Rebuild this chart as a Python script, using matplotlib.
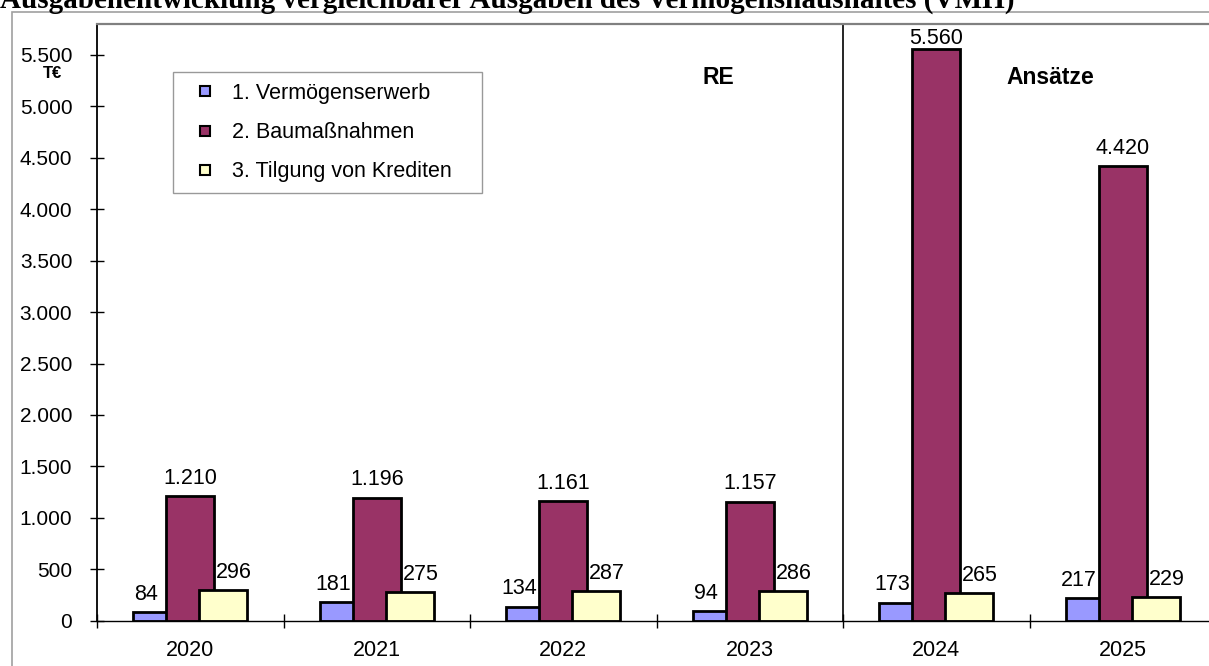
import numpy as np
import matplotlib.pyplot as plt
from matplotlib.lines import Line2D
from matplotlib.patches import Rectangle

# Werte in T€
years = ['2020', '2021', '2022', '2023', '2024', '2025']
verm_erwerb = [84, 181, 134, 94, 173, 217]
baumassnahmen = [1210, 1196, 1161, 1157, 5560, 4420]
tilgung = [296, 275, 287, 286, 265, 229]
series_names = ['1. Vermögenserwerb', '2. Baumaßnahmen', '3. Tilgung von Krediten']
y_ticks = list(range(0, 5501, 500))

colors = ['#9999FF', '#993366', '#FFFFCC']

W, H = 1209, 666
fig = plt.figure(figsize=(W / 100, H / 100), dpi=100)
plt.rcParams['font.family'] = ['Liberation Sans', 'DejaVu Sans']
fs = 15.5

# outer chart border
fig.patches.append(Rectangle((12 / W, -0.1), 1.2, (H - 12) / H + 0.1, transform=fig.transFigure,
                             fill=False, edgecolor='#a0a0a0', linewidth=1.2))

# title (cut off at the top in the original)
fig.text(0.0, 1 - 8 / H, 'Ausgabenentwicklung vergleichbarer Ausgaben des Vermögenshaushaltes (VMH)',
         family='Liberation Serif', fontweight='bold', fontsize=21, va='baseline', ha='left')

left, top, bottom = 97, 24, 620.7
cat_w = 186.5
ax = fig.add_axes([left / W, 1 - bottom / H, 6 * cat_w / W, (bottom - top) / H])

x = np.arange(len(years))
bw = 48 / cat_w
off = 33 / cat_w
for i, (vals, c) in enumerate(zip([verm_erwerb, baumassnahmen, tilgung], colors)):
    ax.bar(x + (i - 1) * off, vals, width=bw, color=c, edgecolor='black', linewidth=2.0)

ax.set_xlim(-0.5, 5.5)
ax.set_ylim(0, 5800)

# value labels
y_max_label = 5605
for i, vals in enumerate([verm_erwerb, baumassnahmen, tilgung]):
    dx = [-11, 0, 11][i]
    for xi, v in zip(x, vals):
        yv = min(v + 121, y_max_label)
        txt = f'{v:,}'.replace(',', '.')
        ax.annotate(txt, (xi + (i - 1) * off, yv), xytext=(dx * 0.72, 0), textcoords='offset points',
                    ha='center', va='baseline', fontsize=fs)

# separator between RE and Ansätze
ax.axvline(3.5, color='black', linewidth=1.2)
ax.text(2.83, 5216, 'RE', ha='center', va='baseline', fontsize=16.5, fontweight='bold')
ax.text(4.61, 5216, 'Ansätze', ha='center', va='baseline', fontsize=16.5, fontweight='bold')

# axes styling
ax.set_yticks(y_ticks)
ax.set_yticklabels([f'{v:,}'.replace(',', '.') for v in y_ticks], fontsize=15)
ax.tick_params(axis='y', direction='inout', length=10.5, width=1, pad=12.5)
ax.set_xticks(np.arange(-0.5, 6.0, 1.0))
ax.set_xticklabels([])
ax.set_xticks(x, minor=True)
ax.set_xticklabels(years, minor=True, fontsize=fs)
ax.tick_params(axis='x', which='major', direction='inout', length=10, width=1)
ax.tick_params(axis='x', which='minor', length=0, pad=14)

ax.spines['right'].set_visible(False)
ax.spines['top'].set_color('#808080')
ax.spines['top'].set_linewidth(1.6)
ax.spines['left'].set_linewidth(1.3)
ax.spines['bottom'].set_linewidth(1.0)

fig.text(52 / W, 1 - 73.5 / H, 'T€', ha='center', va='center', fontsize=12, fontweight='bold')

handles = [Line2D([], [], linestyle='none', marker='s', markersize=6.5, markerfacecolor=c,
                  markeredgecolor='black', markeredgewidth=1.5) for c in colors]
leg = ax.legend(handles, series_names, loc='upper left',
                bbox_to_anchor=(172.7 / W, 1 - 188 / H, 309 / W, 116 / H), mode='expand',
                bbox_transform=fig.transFigure, fontsize=fs, frameon=True, fancybox=False,
                labelspacing=0.85, handlelength=2.0, handletextpad=0.26, borderpad=0.5,
                borderaxespad=0, edgecolor='#808080')
leg.get_frame().set_linewidth(1.0)

fig.savefig('out.png', dpi=100)
